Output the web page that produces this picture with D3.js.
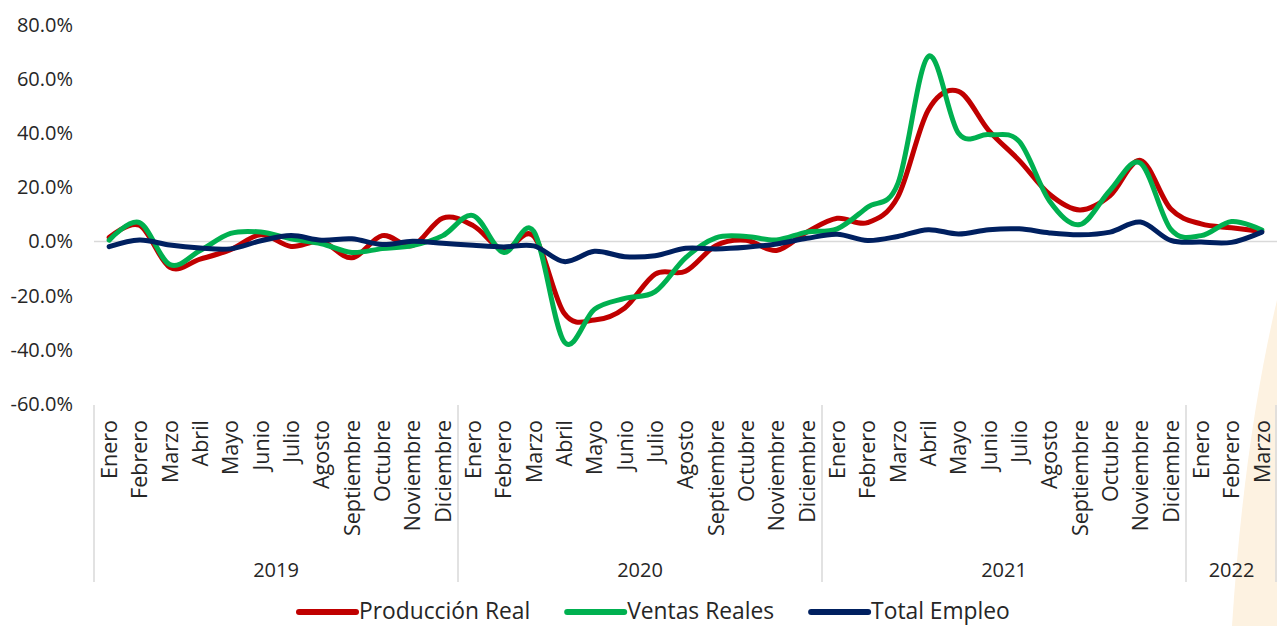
<!DOCTYPE html>
<html>
<head>
<meta charset="utf-8">
<script src="https://cdn.jsdelivr.net/npm/d3@7"></script>
<style>
  html, body { margin: 0; padding: 0; background: #ffffff; }
  svg { display: block; }
  text { font-family: "Open Sans", "DejaVu Sans", sans-serif; fill: #262626; }
</style>
</head>
<body>
<svg id="chart" width="1277" height="626"></svg>
<script>
// ---------------- DATA ----------------
const years = ["2019", "2020", "2021", "2022"];
const yearCounts = [12, 12, 12, 3];
const monthNames = ["Enero", "Febrero", "Marzo", "Abril", "Mayo", "Junio", "Julio",
  "Agosto", "Septiembre", "Octubre", "Noviembre", "Diciembre"];

const seriesNames = ["Producción Real", "Ventas Reales", "Total Empleo"];
const seriesColors = ["#C00000", "#00B050", "#002060"];

// Producción Real (% var. anual)
const produccion = [
  1.5, 6.0, -9.5, -6.5, -3.0, 2.5, -1.8, 0.0, -6.0, 2.2, -1.5, 8.7,
  5.9, -3.0, 2.0, -26.5, -29.0, -24.5, -12.0, -11.0, -1.5, 0.5, -3.3, 3.5,
  8.6, 7.0, 16.5, 48.5, 55.5, 41.0, 30.0, 17.5, 11.7, 17.0, 30.0, 12.0,
  6.5, 5.1, 3.7
];
// Ventas Reales
const ventas = [
  0.5, 7.0, -8.5, -3.3, 3.0, 3.5, 1.0, -0.8, -4.0, -2.6, -1.5, 2.2,
  9.6, -4.0, 3.8, -37.0, -25.0, -21.0, -18.5, -6.0, 1.4, 1.9, 0.6, 3.5,
  4.7, 12.7, 21.4, 68.3, 40.0, 39.5, 37.0, 15.0, 6.3, 19.0, 29.0, 4.5,
  2.2, 7.4, 4.3
];
// Total Empleo
const empleo = [
  -1.9, 0.6, -1.3, -2.4, -2.7, 0.3, 2.2, 0.5, 1.0, -1.1, 0.1, -0.6,
  -1.4, -2.0, -1.6, -7.4, -3.6, -5.6, -5.2, -2.5, -2.7, -2.1, -0.9, 1.2,
  2.7, 0.4, 1.9, 4.4, 2.8, 4.4, 4.7, 3.2, 2.5, 3.5, 7.2, 0.4,
  -0.2, -0.3, 3.5
];

const yTicks = [-60, -40, -20, 0, 20, 40, 60, 80];

// ---------------- BUILD ----------------
const categories = [];
years.forEach((yr, gi) => {
  for (let m = 0; m < yearCounts[gi]; m++) categories.push({ year: yr, month: monthNames[m] });
});
const allSeries = [produccion, ventas, empleo];

const svg = d3.select("#chart");
const plotLeft = 94, plotRight = 1277, plotTop = 25, plotBottom = 404;

const x = d3.scaleBand().domain(d3.range(categories.length)).range([plotLeft, plotRight]).padding(0);
const y = d3.scaleLinear().domain([-60, 80]).range([plotBottom, plotTop]);
const cx = i => x(i) + x.bandwidth() / 2;

// decorative beige wedge (bottom-right)
svg.append("path")
  .attr("d", "M1277,300 Q1244,440 1232,626 L1277,626 Z")
  .attr("fill", "#fdf2e1");

// zero line (horizontal axis line)
svg.append("line")
  .attr("x1", plotLeft).attr("x2", plotRight)
  .attr("y1", y(0)).attr("y2", y(0))
  .attr("stroke", "#d9d9d9").attr("stroke-width", 1.5);

// y axis
const yAxis = svg.append("g")
  .attr("transform", `translate(${plotLeft},0)`)
  .call(d3.axisLeft(y).tickValues(yTicks).tickSize(0).tickPadding(21)
    .tickFormat(d => d.toFixed(1) + "%"));
yAxis.select(".domain").remove();
yAxis.selectAll("text")
  .style("font-family", "'Open Sans', 'DejaVu Sans', sans-serif")
  .style("font-size", "20px")
  .attr("fill", "#262626");

// month axis
const mAxis = svg.append("g")
  .attr("transform", `translate(0,${plotBottom})`)
  .call(d3.axisBottom(x).tickSize(0).tickFormat(i => categories[i].month));
mAxis.select(".domain").remove();
mAxis.selectAll("text")
  .attr("transform", "rotate(-90)")
  .attr("x", -16).attr("y", 0).attr("dy", "0.36em")
  .style("text-anchor", "end")
  .style("font-family", "'Open Sans', 'DejaVu Sans', sans-serif")
  .style("font-size", "21.5px")
  .attr("fill", "#262626");

// year separators and labels
let start = 0;
const bounds = [];
years.forEach((yr, gi) => {
  const s = start, e = start + yearCounts[gi];
  const x0 = x(s);
  const x1 = e < categories.length ? x(e) : plotRight;
  bounds.push(x0);
  svg.append("text")
    .attr("x", (x0 + x1) / 2).attr("y", 577)
    .attr("text-anchor", "middle")
    .style("font-size", "20px")
    .text(yr);
  start = e;
});
bounds.push(plotRight - 1);
svg.selectAll("line.sep").data(bounds).enter().append("line")
  .attr("class", "sep")
  .attr("x1", d => d).attr("x2", d => d)
  .attr("y1", plotBottom + 1).attr("y2", 582)
  .attr("stroke", "#d9d9d9").attr("stroke-width", 1.5);

// series lines
const line = d3.line()
  .x((d, i) => cx(i))
  .y(d => y(d))
  .curve(d3.curveCardinal.tension(0));

allSeries.forEach((vals, si) => {
  svg.append("path")
    .datum(vals)
    .attr("d", line)
    .attr("fill", "none")
    .attr("stroke", seriesColors[si])
    .attr("stroke-width", 5)
    .attr("stroke-linecap", "round")
    .attr("stroke-linejoin", "round");
});

// legend
let lx = 299;
const ly = 612;
seriesNames.forEach((name, si) => {
  svg.append("line")
    .attr("x1", lx).attr("x2", lx + 57)
    .attr("y1", ly).attr("y2", ly)
    .attr("stroke", seriesColors[si]).attr("stroke-width", 6)
    .attr("stroke-linecap", "round");
  const t = svg.append("text")
    .attr("x", lx + 60).attr("y", 619)
    .style("font-size", "22.8px")
    .text(name);
  const w = t.node().getComputedTextLength();
  lx = lx + 60 + w + 37;
});
</script>
</body>
</html>
